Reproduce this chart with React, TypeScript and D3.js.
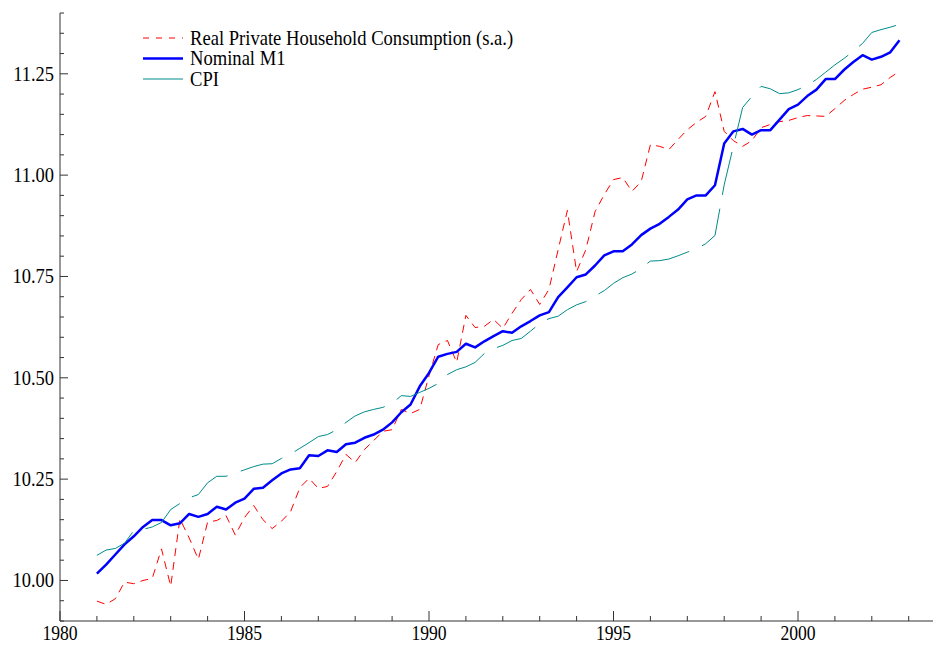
import React, { useRef, useEffect } from "react";
import * as d3 from "d3";

const WIDTH = 933;
const HEIGHT = 645;
const MARGIN = { top: 13, right: 0, bottom: 24, left: 60 };

// quarterly data, first observation is 1981Q1
const START_YEAR = 1981;

const consumption = [
  9.949, 9.941, 9.955, 9.996, 9.992, 10.0, 10.005, 10.078, 9.986, 10.152,
  10.105, 10.052, 10.144, 10.148, 10.16, 10.112, 10.155, 10.185, 10.15, 10.128,
  10.146, 10.17, 10.229, 10.252, 10.227, 10.232, 10.269, 10.311, 10.291, 10.323,
  10.345, 10.368, 10.372, 10.422, 10.412, 10.422, 10.505, 10.582, 10.592, 10.538,
  10.654, 10.624, 10.627, 10.644, 10.622, 10.659, 10.693, 10.718, 10.681, 10.718,
  10.816, 10.913, 10.762, 10.816, 10.91, 10.952, 10.989, 10.994, 10.96, 10.984,
  11.075, 11.071, 11.063, 11.088, 11.112, 11.13, 11.145, 11.206, 11.108, 11.085,
  11.071, 11.085, 11.117, 11.125, 11.132, 11.135, 11.142, 11.147, 11.146, 11.145,
  11.164, 11.184, 11.199, 11.212, 11.217, 11.223, 11.241, 11.256,
];

const m1 = [
  10.017, 10.039, 10.064, 10.089, 10.109, 10.132, 10.149, 10.149, 10.136, 10.141,
  10.164, 10.157, 10.164, 10.182, 10.175, 10.192, 10.202, 10.226, 10.229, 10.247,
  10.264, 10.274, 10.277, 10.309, 10.307, 10.321, 10.317, 10.336, 10.34, 10.352,
  10.36, 10.372, 10.39, 10.415, 10.434, 10.479, 10.512, 10.552, 10.559, 10.564,
  10.584, 10.575, 10.59, 10.603, 10.615, 10.611, 10.627, 10.64, 10.654, 10.662,
  10.699, 10.723, 10.748, 10.755, 10.777, 10.802, 10.812, 10.812, 10.829, 10.852,
  10.868, 10.88, 10.897, 10.915, 10.94, 10.95, 10.95, 10.975, 11.078, 11.108,
  11.114, 11.1, 11.111, 11.111, 11.137, 11.163, 11.174, 11.195, 11.211, 11.237,
  11.237, 11.26, 11.279, 11.296, 11.285, 11.292, 11.303, 11.333,
];

const cpi = [
  10.062, 10.075, 10.079, 10.092, 10.123, 10.126, 10.132, 10.143, 10.175, 10.19,
  10.204, 10.212, 10.241, 10.257, 10.257, 10.265, 10.273, 10.281, 10.287, 10.288,
  10.301, 10.312, 10.326, 10.34, 10.355, 10.36, 10.372, 10.39, 10.406, 10.416,
  10.422, 10.427, 10.437, 10.456, 10.454, 10.464, 10.474, 10.486, 10.508, 10.52,
  10.527, 10.538, 10.56, 10.572, 10.58, 10.592, 10.597, 10.615, 10.634, 10.646,
  10.652, 10.668, 10.68, 10.688, 10.702, 10.715, 10.733, 10.747, 10.756, 10.77,
  10.788, 10.789, 10.793, 10.801, 10.81, 10.818, 10.831, 10.851, 10.976, 11.072,
  11.167, 11.194, 11.219, 11.213, 11.201, 11.203, 11.211, 11.222, 11.236, 11.254,
  11.272, 11.288, 11.306, 11.325, 11.352, 11.359, 11.365, 11.372,
];

const xTickLabels = [1980, 1985, 1990, 1995, 2000];
const yTickLabels = [10.0, 10.25, 10.5, 10.75, 11.0, 11.25];
const legendLabels = [
  "Real Private Household Consumption (s.a.)",
  "Nominal M1",
  "CPI",
];

const SERIES = [
  { values: consumption, color: "#ff0000", width: 1, dash: "8,6" },
  { values: m1, color: "#0000ff", width: 2.5, dash: null },
  { values: cpi, color: "#008b8b", width: 1, dash: "44,14" },
];

const FONT = "'Liberation Serif', 'Times New Roman', serif";

export default function App() {
  const svgRef = useRef<SVGSVGElement | null>(null);

  useEffect(() => {
    const svg = d3.select(svgRef.current);
    svg.selectAll("*").remove();

    const x = d3
      .scaleLinear()
      .domain([1980, 1980 + (WIDTH - MARGIN.left) / 36.9])
      .range([MARGIN.left, WIDTH - MARGIN.right]);
    const y = d3
      .scaleLinear()
      .domain([9.9, 11.4])
      .range([HEIGHT - MARGIN.bottom, MARGIN.top]);

    const axisColor = "#333";
    const y0 = HEIGHT - MARGIN.bottom;

    // axis lines
    svg
      .append("line")
      .attr("x1", MARGIN.left)
      .attr("x2", WIDTH)
      .attr("y1", y0)
      .attr("y2", y0)
      .attr("stroke", axisColor);
    svg
      .append("line")
      .attr("x1", MARGIN.left)
      .attr("x2", MARGIN.left)
      .attr("y1", MARGIN.top)
      .attr("y2", y0)
      .attr("stroke", axisColor);

    // x ticks (pointing up into the plot)
    const xMinor = d3.range(1981, 2004).filter((v) => v % 5 !== 0);
    svg
      .append("g")
      .selectAll("line")
      .data(xMinor)
      .enter()
      .append("line")
      .attr("x1", (d) => x(d))
      .attr("x2", (d) => x(d))
      .attr("y1", y0)
      .attr("y2", y0 - 5)
      .attr("stroke", axisColor);
    svg
      .append("g")
      .selectAll("line")
      .data(xTickLabels)
      .enter()
      .append("line")
      .attr("x1", (d) => x(d))
      .attr("x2", (d) => x(d))
      .attr("y1", y0)
      .attr("y2", y0 - 10)
      .attr("stroke", axisColor);
    svg
      .append("g")
      .selectAll("text")
      .data(xTickLabels)
      .enter()
      .append("text")
      .attr("transform", (d) => `translate(${x(d)},${y0 + 19}) scale(0.88,1)`)
      .attr("text-anchor", "middle")
      .attr("font-family", FONT)
      .attr("font-size", 20)
      .attr("fill", "#000")
      .text((d) => d);

    // y ticks (pointing right into the plot)
    const yMinor = d3
      .range(0, 31)
      .map((k) => +(9.9 + k * 0.05).toFixed(2))
      .filter((v) => !yTickLabels.some((t) => Math.abs(t - v) < 1e-6));
    svg
      .append("g")
      .selectAll("line")
      .data(yMinor)
      .enter()
      .append("line")
      .attr("x1", MARGIN.left)
      .attr("x2", MARGIN.left + 4)
      .attr("y1", (d) => y(d))
      .attr("y2", (d) => y(d))
      .attr("stroke", axisColor);
    svg
      .append("g")
      .selectAll("line")
      .data(yTickLabels)
      .enter()
      .append("line")
      .attr("x1", MARGIN.left)
      .attr("x2", MARGIN.left + 8)
      .attr("y1", (d) => y(d))
      .attr("y2", (d) => y(d))
      .attr("stroke", axisColor);
    svg
      .append("g")
      .selectAll("text")
      .data(yTickLabels)
      .enter()
      .append("text")
      .attr("transform", (d) => `translate(${MARGIN.left - 6},${y(d) + 7}) scale(0.88,1)`)
      .attr("text-anchor", "end")
      .attr("font-family", FONT)
      .attr("font-size", 21)
      .attr("fill", "#000")
      .text((d) => d.toFixed(2));

    // series
    const line = d3
      .line<number>()
      .x((_, i) => x(START_YEAR + i / 4))
      .y((d) => y(d));
    SERIES.forEach((s) => {
      const p = svg
        .append("path")
        .datum(s.values)
        .attr("fill", "none")
        .attr("stroke", s.color)
        .attr("stroke-width", s.width)
        .attr("stroke-linejoin", "round")
        .attr("d", line);
      if (s.dash) p.attr("stroke-dasharray", s.dash);
    });

    // legend
    const legend = svg.append("g").attr("transform", "translate(143,38)");
    legendLabels.forEach((label, i) => {
      const s = SERIES[i];
      const row = legend.append("g").attr("transform", `translate(0,${i * 20.5})`);
      const l = row
        .append("line")
        .attr("x1", 0)
        .attr("x2", 40)
        .attr("y1", 0)
        .attr("y2", 0)
        .attr("stroke", s.color)
        .attr("stroke-width", s.width);
      if (s.dash) l.attr("stroke-dasharray", i === 0 ? "6,7" : s.dash);
      row
        .append("text")
        .attr("transform", "translate(47,6.5) scale(0.93,1)")
        .attr("font-family", FONT)
        .attr("font-size", 20)
        .attr("fill", "#000")
        .text(label);
    });
  }, []);

  return (
    <svg
      ref={svgRef}
      width={WIDTH}
      height={HEIGHT}
      style={{ position: "absolute", left: 0, top: 0, background: "#fff" }}
    />
  );
}
